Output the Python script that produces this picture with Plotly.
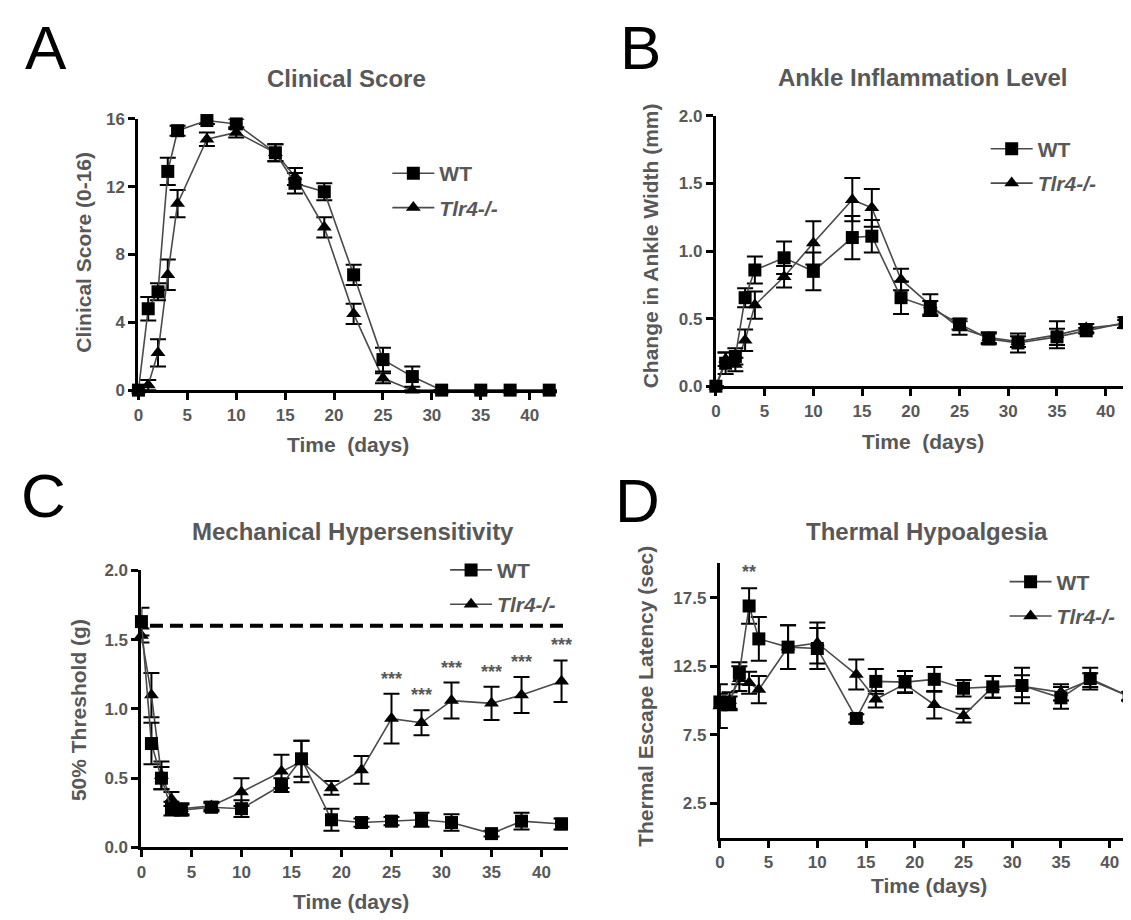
import plotly.graph_objects as go

W, H = 1131, 920

# ---------------- data ----------------
days = [0, 1, 2, 3, 4, 7, 10, 14, 16, 19, 22, 25, 28, 31, 35, 38, 42]

a_wt = [0, 4.8, 5.8, 12.9, 15.3, 15.9, 15.7, 14.0, 12.2, 11.7, 6.8, 1.8, 0.8, 0, 0, 0, 0]
a_wt_err = [0, 0.7, 0.5, 0.8, 0.3, 0.2, 0.3, 0.5, 0.6, 0.5, 0.6, 0.7, 0.6, 0, 0, 0, 0]
a_ko = [0, 0.3, 2.2, 6.8, 11.0, 14.8, 15.2, 14.0, 12.6, 9.6, 4.5, 0.7, 0, 0, 0, 0, 0]
a_ko_err = [0, 0.3, 0.8, 0.9, 0.8, 0.4, 0.3, 0.5, 0.5, 0.6, 0.6, 0.3, 0, 0, 0, 0, 0]

b_wt = [0, 0.17, 0.22, 0.655, 0.86, 0.95, 0.85, 1.1, 1.11, 0.655, 0.58, 0.46, 0.35, 0.32, 0.365, 0.41, 0.47]
b_wt_err = [0, 0.08, 0.06, 0.07, 0.1, 0.12, 0.14, 0.16, 0.12, 0.12, 0.05, 0.04, 0.04, 0.07, 0.06, 0.02, 0.04]
b_ko = [0, 0.2, 0.16, 0.34, 0.6, 0.81, 1.06, 1.38, 1.32, 0.79, 0.6, 0.43, 0.36, 0.33, 0.38, 0.43, 0.46]
b_ko_err = [0, 0.05, 0.05, 0.08, 0.1, 0.08, 0.16, 0.16, 0.14, 0.08, 0.08, 0.05, 0.04, 0.04, 0.1, 0.03, 0.03]

c_wt = [1.63, 0.75, 0.5, 0.28, 0.27, 0.29, 0.28, 0.45, 0.64, 0.2, 0.18, 0.19, 0.2, 0.18, 0.1, 0.19, 0.17]
c_wt_err = [0.1, 0.15, 0.08, 0.05, 0.04, 0.03, 0.06, 0.05, 0.13, 0.08, 0.03, 0.03, 0.05, 0.06, 0.02, 0.06, 0.04]
c_ko = [1.53, 1.1, 0.52, 0.35, 0.28, 0.3, 0.4, 0.55, 0.62, 0.43, 0.56, 0.93, 0.9, 1.06, 1.04, 1.1, 1.2]
c_ko_err = [0.05, 0.16, 0.1, 0.05, 0.04, 0.03, 0.1, 0.12, 0.15, 0.05, 0.1, 0.18, 0.09, 0.13, 0.12, 0.13, 0.15]
c_baseline = 1.6
c_sig_days = [25, 28, 31, 35, 38, 42]
c_sig_label = "***"

d_wt = [9.9, 9.8, 12.0, 16.9, 14.5, 13.9, 13.8, 8.7, 11.4, 11.35, 11.55, 10.9, 11.0, 11.1, 10.2, 11.6, 10.3]
d_wt_err = [0.6, 0.5, 0.8, 1.3, 1.6, 1.6, 1.5, 0.3, 0.9, 0.8, 0.9, 0.6, 0.8, 1.3, 0.8, 0.8, 0.3]
d_ko = [9.6, 10.0, 11.6, 11.3, 10.8, 13.9, 14.2, 11.9, 10.1, 11.2, 9.7, 8.9, 11.0, 11.05, 10.6, 11.5, 10.3]
d_ko_err = [1.6, 0.6, 0.9, 0.8, 1.0, 1.6, 1.5, 1.1, 0.6, 0.6, 1.0, 0.5, 0.8, 0.8, 0.6, 0.5, 0.3]
d_sig_days = [3]
d_sig_label = "**"

x_ticks = [0, 5, 10, 15, 20, 25, 30, 35, 40]
a_yticks = [0, 4, 8, 12, 16]
b_yticks = [0.0, 0.5, 1.0, 1.5, 2.0]
c_yticks = [0.0, 0.5, 1.0, 1.5, 2.0]
d_yticks = [2.5, 7.5, 12.5, 17.5]

name_wt = "WT"
name_ko = "<i>Tlr4-/-</i>"

# ---------------- style ----------------
FONT = "Liberation Sans, Arial, Helvetica, sans-serif"
TXT = "#585858"
LINE = "#4a4a4a"


def px_x(p):
    return p / W


def px_y(p):
    return 1 - p / H


panels = {
    # name: (x0, x1, ytop, ybottom, xmax, yrange, yticks, tickformat)
    "1": (126, 546, 104, 381, 42.75, [0, 16], a_yticks, None),
    "2": (706, 1124, 101, 377, 42.7, [0, 2], b_yticks, ".1f"),
    "3": (129, 557, 565, 848, 42.6, [0, 2], c_yticks, ".1f"),
    "4": (710, 1128, 558, 838, 42.7, [0, 20], d_yticks, ".1f"),
}

fig = go.Figure()


def add_series(k, y_wt, e_wt, y_ko, e_ko):
    xa = "x" if k == "1" else "x" + k
    ya = "y" if k == "1" else "y" + k
    leg = "legend" if k == "1" else "legend" + k
    common = dict(x=days, xaxis=xa, yaxis=ya, mode="lines+markers", cliponaxis=False,
                  legend=leg, line=dict(color=LINE, width=1.6))
    fig.add_trace(go.Scatter(
        y=y_ko, name=name_ko, legendgroup="ko" + k, legendrank=2,
        marker=dict(symbol="triangle-up", size=13, color="black"),
        error_y=dict(type="data", array=e_ko, visible=True, color="black", thickness=2, width=8),
        **common))
    fig.add_trace(go.Scatter(
        y=y_wt, name=name_wt, legendgroup="wt" + k, legendrank=1,
        marker=dict(symbol="square", size=13, color="black"),
        error_y=dict(type="data", array=e_wt, visible=True, color="black", thickness=2, width=8),
        **common))


add_series("1", a_wt, a_wt_err, a_ko, a_ko_err)
add_series("2", b_wt, b_wt_err, b_ko, b_ko_err)
add_series("3", c_wt, c_wt_err, c_ko, c_ko_err)
add_series("4", d_wt, d_wt_err, d_ko, d_ko_err)

layout = dict(
    width=W, height=H, margin=dict(l=0, r=0, t=0, b=0),
    paper_bgcolor="white", plot_bgcolor="rgba(0,0,0,0)",
    font=dict(family=FONT, color=TXT, size=18),
    showlegend=True,
)

tickfont = dict(family=FONT, size=17, color=TXT, weight="bold")
for k, (x0, x1, yt, yb, xmax, yr, yt_vals, fmt) in panels.items():
    xa = "xaxis" if k == "1" else "xaxis" + k
    ya = "yaxis" if k == "1" else "yaxis" + k
    xid = "x" if k == "1" else "x" + k
    yid = "y" if k == "1" else "y" + k
    layout[xa] = dict(domain=[px_x(x0), px_x(x1)], anchor=yid, range=[0, xmax],
                      tickvals=x_ticks, showline=True, linecolor="black", linewidth=3,
                      ticks="outside", ticklen=7, tickwidth=2.5, tickcolor="black",
                      showgrid=False, zeroline=False, tickfont=tickfont)
    yd = dict(domain=[px_y(yb), px_y(yt)], anchor=xid, range=yr,
              tickvals=yt_vals, showline=True, linecolor="black", linewidth=3,
              ticks="outside", ticklen=7, tickwidth=2.5, tickcolor="black",
              showgrid=False, zeroline=False, tickfont=tickfont)
    if fmt:
        yd["tickformat"] = fmt
    layout[ya] = yd

# legends
legend_pos = {"1": (396, 139), "2": (997, 114), "3": (454, 544), "4": (1016, 556)}
for k, (cx, top) in legend_pos.items():
    lk = "legend" if k == "1" else "legend" + k
    layout[lk] = dict(x=px_x(cx - 20), y=px_y(top), xanchor="left", yanchor="top",
                      bgcolor="rgba(0,0,0,0)", itemwidth=42, tracegroupgap=4,
                      font=dict(family=FONT, size=21, color=TXT, weight="bold"))

fig.update_layout(**layout)

# dashed baseline in panel C
fig.add_shape(type="line", xref="x3 domain", yref="y3", x0=0.02, x1=1, y0=c_baseline, y1=c_baseline,
              line=dict(color="black", width=4, dash="13px,7px"), layer="below")

ann = []
# panel letters
for letter, (cx, cy) in {"A": (33, 31), "B": (630, 31), "C": (31, 489), "D": (627, 494)}.items():
    ann.append(dict(text=letter, x=px_x(cx), y=px_y(cy), xref="paper", yref="paper",
                    showarrow=False, xanchor="center", yanchor="middle",
                    font=dict(family=FONT, size=62, color="black")))
# panel titles
titles = [("Clinical Score", 335, 63), ("Ankle Inflammation Level", 914, 62),
          ("Mechanical Hypersensitivity", 342, 525), ("Thermal Hypoalgesia", 918, 525)]
for t, cx, cy in titles:
    ann.append(dict(text=t, x=px_x(cx), y=px_y(cy), xref="paper", yref="paper",
                    showarrow=False, xanchor="center", yanchor="middle",
                    font=dict(family=FONT, size=24, color=TXT, weight="bold")))
# x axis titles
xtitles = [("Time\u00a0\u00a0(days)", 336, 437), ("Time\u00a0\u00a0(days)", 914, 433),
           ("Time (days)", 339, 903), ("Time (days)", 920, 887)]
for t, cx, cy in xtitles:
    ann.append(dict(text=t, x=px_x(cx), y=px_y(cy), xref="paper", yref="paper",
                    showarrow=False, xanchor="center", yanchor="middle",
                    font=dict(family=FONT, size=21, color=TXT, weight="bold")))
# y axis titles
ytitles = [("Clinical Score (0-16)", 70, 240), ("Change in Ankle Width (mm)", 640, 234),
           ("50% Threshold (g)", 66, 708), ("Thermal Escape Latency (sec)", 635, 694)]
for t, cx, cy in ytitles:
    ann.append(dict(text=t, x=px_x(cx), y=px_y(cy), xref="paper", yref="paper",
                    showarrow=False, xanchor="center", yanchor="middle", textangle=-90,
                    font=dict(family=FONT, size=21, color=TXT, weight="bold")))
# significance marks
for d in c_sig_days:
    i = days.index(d)
    ann.append(dict(text=c_sig_label, x=d, y=c_ko[i] + c_ko_err[i], xref="x3", yref="y3",
                    showarrow=False, xanchor="center", yanchor="bottom", yshift=3,
                    font=dict(family=FONT, size=18, color=TXT, weight="bold")))
for d in d_sig_days:
    i = days.index(d)
    ann.append(dict(text=d_sig_label, x=d, y=d_wt[i] + d_wt_err[i], xref="x4", yref="y4",
                    showarrow=False, xanchor="center", yanchor="bottom", yshift=4,
                    font=dict(family=FONT, size=18, color=TXT, weight="bold")))

fig.update_layout(annotations=ann)
fig.write_html("out.html")
